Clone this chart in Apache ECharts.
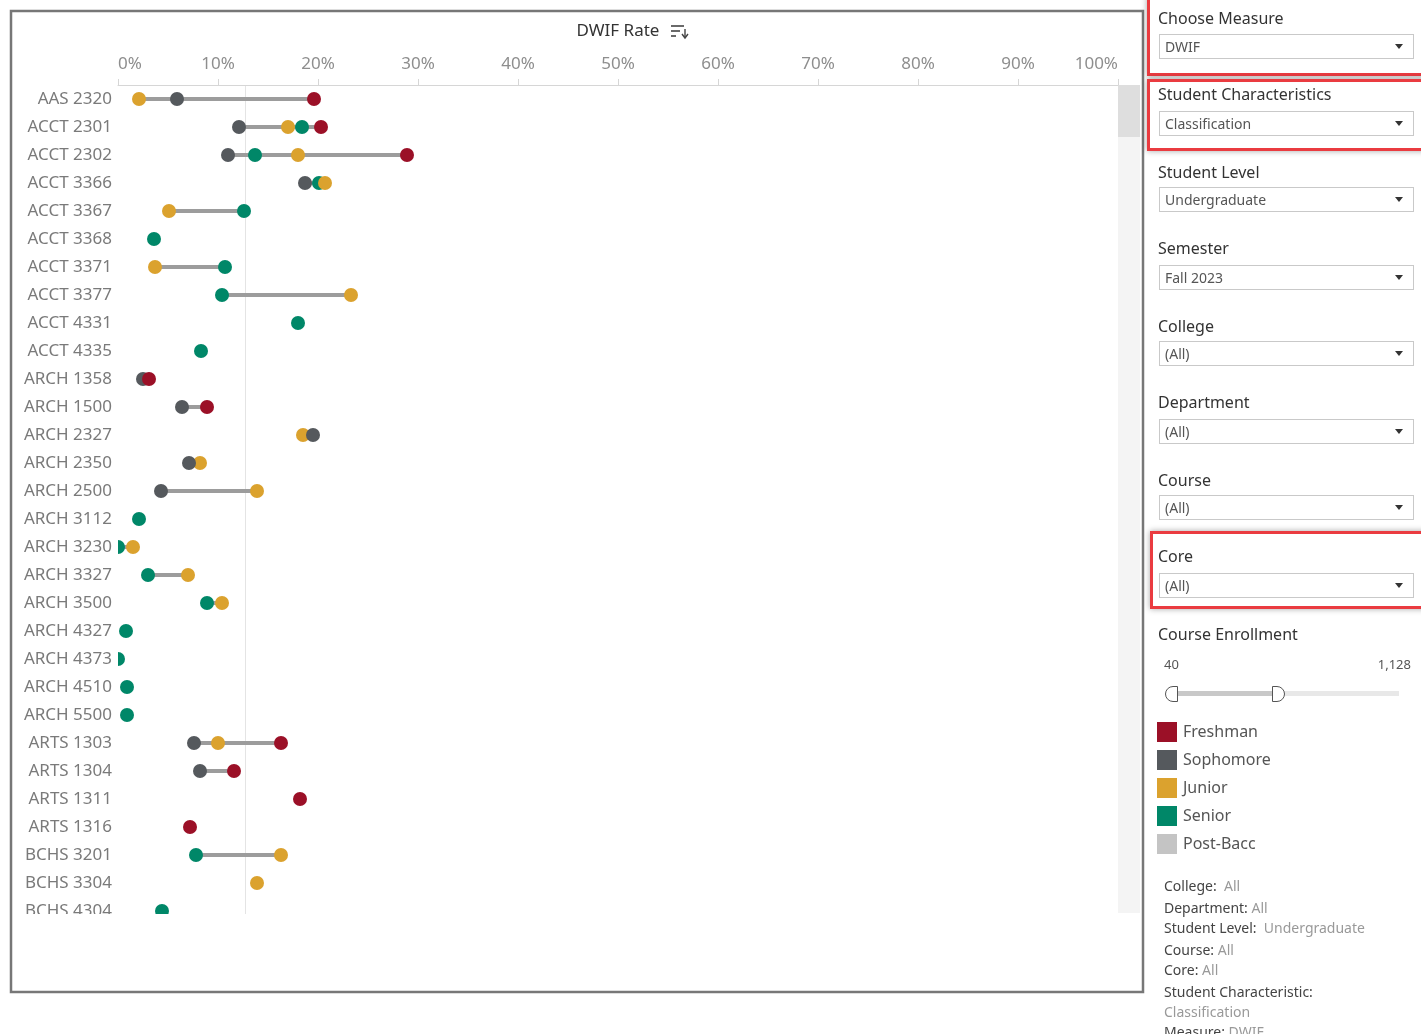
<!DOCTYPE html>
<html>
<head>
<meta charset="utf-8">
<script src="https://cdn.jsdelivr.net/npm/echarts@6/dist/echarts.min.js"></script>
<style>
  html, body { margin: 0; padding: 0; background: #fff; overflow: hidden; }
  body { width: 1421px; height: 1034px; position: relative; font-family: "Noto Sans", sans-serif; }
  #chart { position: absolute; left: 0; top: 0; width: 1421px; height: 1034px; }
  .lbl { position: absolute; left: 1158px; font-size: 16px; line-height: 20px; color: #333; white-space: nowrap; }
  .dd { position: absolute; left: 1159px; width: 255px; height: 25px; border: 1px solid #c9c9c9; background: #fff; box-sizing: border-box; }
  .dd span { position: absolute; left: 5px; top: 0; line-height: 23px; font-size: 14px; color: #555; }
  .dd i { position: absolute; right: 10px; top: 9px; width: 0; height: 0; border-left: 4px solid transparent; border-right: 4px solid transparent; border-top: 5px solid #333; }
  .redbox { position: absolute; border: 3px solid #ea3b40; box-shadow: 0 0 6px rgba(0,0,0,0.35); box-sizing: border-box; }
  .sum { position: absolute; left: 1164px; font-size: 14px; line-height: 20px; color: #444; white-space: nowrap; }
  .sum b { font-weight: normal; color: #999; }
</style>
</head>
<body>
<div id="chart"></div>

<div class="redbox" style="left:1147px;top:-4px;width:280px;height:80px;"></div>
<div class="redbox" style="left:1147px;top:79px;width:280px;height:72px;"></div>
<div class="redbox" style="left:1150px;top:531px;width:280px;height:78px;"></div>

<div class="lbl" style="top:8px;">Choose Measure</div>
<div class="dd" style="top:34px;"><span>DWIF</span><i></i></div>
<div class="lbl" style="top:84px;">Student Characteristics</div>
<div class="dd" style="top:111px;"><span>Classification</span><i></i></div>
<div class="lbl" style="top:162px;">Student Level</div>
<div class="dd" style="top:187px;"><span>Undergraduate</span><i></i></div>
<div class="lbl" style="top:238px;">Semester</div>
<div class="dd" style="top:265px;"><span>Fall 2023</span><i></i></div>
<div class="lbl" style="top:316px;">College</div>
<div class="dd" style="top:341px;"><span>(All)</span><i></i></div>
<div class="lbl" style="top:392px;">Department</div>
<div class="dd" style="top:419px;"><span>(All)</span><i></i></div>
<div class="lbl" style="top:470px;">Course</div>
<div class="dd" style="top:495px;"><span>(All)</span><i></i></div>
<div class="lbl" style="top:546px;">Core</div>
<div class="dd" style="top:573px;"><span>(All)</span><i></i></div>
<div class="lbl" style="top:624px;">Course Enrollment</div>

<div style="position:absolute;left:1164px;top:655px;font-size:13px;color:#555;">40</div>
<div style="position:absolute;right:10px;top:655px;font-size:13px;color:#555;">1,128</div>
<div style="position:absolute;left:1172px;top:691px;width:227px;height:5px;background:#e8e8e8;"></div>
<div style="position:absolute;left:1172px;top:691px;width:107px;height:5px;background:#c8c8c8;"></div>
<div style="position:absolute;left:1165px;top:686px;width:11px;height:14px;background:#fff;border:1.5px solid #555;border-radius:8px 0 0 8px;"></div>
<div style="position:absolute;left:1272px;top:686px;width:11px;height:14px;background:#fff;border:1.5px solid #555;border-radius:0 8px 8px 0;"></div>

<div class="sum" style="top:876px;">College:&nbsp; <b>All</b></div>
<div class="sum" style="top:898px;">Department: <b>All</b></div>
<div class="sum" style="top:918px;">Student Level:&nbsp; <b>Undergraduate</b></div>
<div class="sum" style="top:940px;">Course: <b>All</b></div>
<div class="sum" style="top:960px;">Core: <b>All</b></div>
<div class="sum" style="top:982px;">Student Characteristic:</div>
<div class="sum" style="top:1002px;"><b>Classification</b></div>
<div class="sum" style="top:1022px;">Measure: <b>DWIF</b></div>

<script>
  var categories = ['AAS 2320', 'ACCT 2301', 'ACCT 2302', 'ACCT 3366', 'ACCT 3367', 'ACCT 3368', 'ACCT 3371',
    'ACCT 3377', 'ACCT 4331', 'ACCT 4335', 'ARCH 1358', 'ARCH 1500', 'ARCH 2327', 'ARCH 2350', 'ARCH 2500',
    'ARCH 3112', 'ARCH 3230', 'ARCH 3327', 'ARCH 3500', 'ARCH 4327', 'ARCH 4373', 'ARCH 4510', 'ARCH 5500',
    'ARTS 1303', 'ARTS 1304', 'ARTS 1311', 'ARTS 1316', 'BCHS 3201', 'BCHS 3304', 'BCHS 4304'];

  // DWIF rate (%) per classification, null = no students
  var freshman = [19.6, 20.3, 28.9, null, null, null, null, null, null, null, 3.1, 8.9, null, null, null,
    null, null, null, null, null, null, null, null, 16.3, 11.6, 18.2, 7.2, null, null, null];
  var sophomore = [5.9, 12.1, 11.0, 18.7, null, null, null, null, null, null, 2.5, 6.4, 19.5, 7.1, 4.3,
    null, null, null, null, null, null, null, null, 7.6, 8.2, null, null, null, null, null];
  var junior = [2.1, 17.0, 18.0, 20.7, 5.1, null, 3.7, 23.3, null, null, null, null, 18.5, 8.2, 13.9,
    null, 1.5, 7.0, 10.4, null, null, null, null, 10.0, null, null, null, 16.3, 13.9, null];
  var senior = [null, 18.4, 13.7, 20.1, 12.6, 3.6, 10.7, 10.4, 18.0, 8.3, null, null, null, null, null,
    2.1, 0, 3.0, 8.9, 0.8, 0, 0.9, 0.9, null, null, null, null, 7.8, null, 4.4];
  var postBacc = [];

  var refRate = 12.7;
  var xTicks = [0, 100, 10]; // min, max, step

  var colors = {
    Freshman: '#9b1027',
    Sophomore: '#55595d',
    Junior: '#dba22e',
    Senior: '#008768',
    'Post-Bacc': '#c4c4c4'
  };

  function toPoints (arr) {
    var out = [];
    arr.forEach(function (v, i) {
      if (v !== null && v !== undefined) out.push([v, i]);
    });
    return out;
  }

  // min-max range per course for the connecting bar
  var ranges = [];
  categories.forEach(function (c, i) {
    var vals = [freshman[i], sophomore[i], junior[i], senior[i]].filter(function (v) { return v !== null; });
    if (vals.length > 1) ranges.push([Math.min.apply(null, vals), Math.max.apply(null, vals), i]);
  });

  function dotSeries (name, arr) {
    return {
      name: name,
      type: 'scatter',
      data: toPoints(arr),
      symbolSize: 14,
      clip: false,
      z: 2,
      itemStyle: { color: colors[name], opacity: 1 },
      emphasis: { disabled: true }
    };
  }

  var myChart = echarts.init(document.getElementById('chart'));
  var option = {
    animation: false,
    textStyle: { fontFamily: 'Noto Sans' },
    grid: { left: 118, top: 85, width: 1000, height: 840, containLabel: false },
    legend: {
      orient: 'vertical',
      left: 1157,
      top: 722,
      padding: 0,
      icon: 'rect',
      itemWidth: 20,
      itemHeight: 20,
      itemGap: 8,
      selectedMode: false,
      textStyle: { fontSize: 16, color: '#555', padding: [0, 0, 0, 1] },
      data: ['Freshman', 'Sophomore', 'Junior', 'Senior', 'Post-Bacc']
    },
    xAxis: {
      type: 'value',
      position: 'top',
      min: xTicks[0],
      max: xTicks[1],
      interval: xTicks[2],
      name: 'DWIF Rate',
      nameLocation: 'middle',
      nameGap: 45,
      nameTextStyle: { fontSize: 17, color: '#333' },
      axisLine: { show: true, lineStyle: { color: '#d6d6d6', width: 1 } },
      axisTick: { show: true, length: 6, lineStyle: { color: '#d6d6d6' } },
      splitLine: { show: false },
      axisLabel: {
        formatter: '{value}%',
        fontSize: 17,
        color: '#8e8e8e',
        margin: 12,
        alignMinLabel: 'left',
        alignMaxLabel: 'right'
      }
    },
    yAxis: {
      type: 'category',
      inverse: true,
      data: categories,
      z: 5,
      axisLine: { show: false },
      axisTick: { show: false },
      splitLine: { show: false },
      axisLabel: { fontSize: 17, color: '#7a7a7a', margin: 6, interval: 0 }
    },
    graphic: [
      { type: 'rect', z: 0, silent: true, shape: { x: 1118, y: 85, width: 22, height: 828 }, style: { fill: '#f4f4f4' } },
      { type: 'rect', z: 0, silent: true, shape: { x: 1118, y: 85, width: 22, height: 52 }, style: { fill: '#dedede' } },
      { type: 'rect', z: 3, silent: true, shape: { x: 100, y: 86, width: 18, height: 828 }, style: { fill: '#fff' } },
      { type: 'rect', z: 10, silent: true, shape: { x: 13, y: 914, width: 1128, height: 16 }, style: { fill: '#fff' } },
      { type: 'rect', z: 11, silent: true, shape: { x: 11, y: 11, width: 1132, height: 981 }, style: { fill: 'none', stroke: '#777', lineWidth: 2.5 } },
      // sort icon next to axis title
      { type: 'line', silent: true, shape: { x1: 671, y1: 26, x2: 684, y2: 26 }, style: { stroke: '#444', lineWidth: 1.6 } },
      { type: 'line', silent: true, shape: { x1: 671, y1: 31, x2: 680, y2: 31 }, style: { stroke: '#444', lineWidth: 1.6 } },
      { type: 'line', silent: true, shape: { x1: 671, y1: 36, x2: 676, y2: 36 }, style: { stroke: '#444', lineWidth: 1.6 } },
      { type: 'line', silent: true, shape: { x1: 685, y1: 29, x2: 685, y2: 37 }, style: { stroke: '#444', lineWidth: 1.4 } },
      { type: 'polyline', silent: true, shape: { points: [[682, 34], [685, 38], [688, 34]] }, style: { stroke: '#444', fill: 'none', lineWidth: 1.4 } }
    ],
    series: [
      {
        // reference line
        type: 'custom',
        name: 'ref',
        silent: true,
        z: 0,
        data: [[refRate, 0]],
        encode: { x: 0, y: 1 },
        renderItem: function (params, api) {
          var p = api.coord([api.value(0), 0]);
          var cs = params.coordSys;
          return {
            type: 'line',
            shape: { x1: Math.round(p[0]) + 0.5, y1: cs.y, x2: Math.round(p[0]) + 0.5, y2: cs.y + cs.height },
            style: { stroke: '#e4e4e4', lineWidth: 1 }
          };
        }
      },
      {
        type: 'custom',
        name: 'range',
        silent: true,
        z: 1,
        data: ranges,
        encode: { x: [0, 1], y: 2 },
        renderItem: function (params, api) {
          var a = api.coord([api.value(0), api.value(2)]);
          var b = api.coord([api.value(1), api.value(2)]);
          return {
            type: 'line',
            shape: { x1: a[0], y1: a[1], x2: b[0], y2: b[1] },
            style: { stroke: '#9c9c9c', lineWidth: 4 }
          };
        }
      },
      dotSeries('Senior', senior),
      dotSeries('Junior', junior),
      dotSeries('Sophomore', sophomore),
      dotSeries('Freshman', freshman),
      dotSeries('Post-Bacc', postBacc)
    ]
  };
  myChart.setOption(option);
</script>
</body>
</html>
